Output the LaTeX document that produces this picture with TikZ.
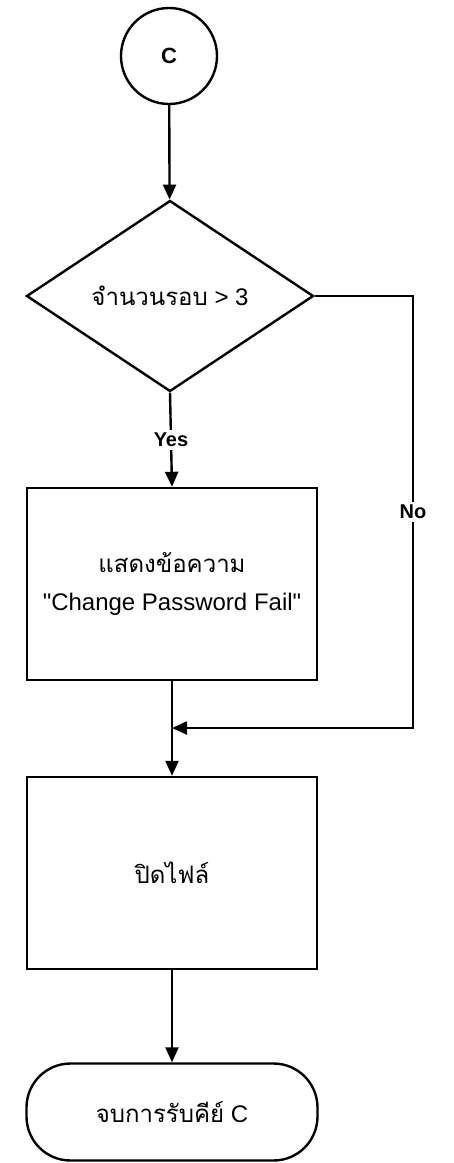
\documentclass[tikz,border=0pt]{standalone}
\usepackage{fontspec}
\setmainfont{Liberation Sans}[Ligatures=TeXOff]
\newfontfamily\thaifont[Script=Thai]{Loma}
\usetikzlibrary{arrows.meta,shapes.geometric}
\begin{document}
\begin{tikzpicture}[x=0.5pt,y=-0.5pt,
  line width=1.2pt,
  >={Triangle[width=6.5pt,length=7.5pt]},
  every node/.style={font=\fontsize{12}{15}\selectfont, inner sep=0pt, align=center},
  connector/.style={circle, draw, minimum size=48pt, font=\fontsize{11}{13}\selectfont\bfseries},
  decision/.style={diamond, draw, minimum width=143.5pt, minimum height=95.5pt},
  process/.style={rectangle, draw, minimum width=145pt, minimum height=96pt},
  terminal/.style={rectangle, draw, rounded corners=22pt, minimum width=145.5pt, minimum height=48.5pt},
  lbl/.style={fill=white, inner sep=1.5pt, font=\fontsize{10}{12}\selectfont\bfseries}]
  \useasboundingbox (0,0) rectangle (454,1163);

  \node[connector] (c) at (169,56) {C};
  \node[decision] (dec) at (170,296) {{\thaifont จำนวนรอบ} > 3};
  \node[process] (show) at (172,584) {{\thaifont แสดงข้อความ}\\[4pt]"Change Password Fail"};
  \node[process] (close) at (172,873) {\thaifont ปิดไฟล์};
  \node[terminal] (stop) at (172,1112) {{\thaifont จบการรับคีย์} C};

  \coordinate (corner) at (413,728);
  \coordinate (join) at (172,728);

  \draw[->] (c) -- (dec);
  \draw[->] (dec.south) -- node[lbl] {Yes} (show.north);
  \draw[->] (dec.east) -| node[lbl, pos=0.75] {No} (corner) -- (join);
  \draw[->] (show.south) -- (close.north);
  \draw[->] (close.south) -- (stop.north);
\end{tikzpicture}
\end{document}
